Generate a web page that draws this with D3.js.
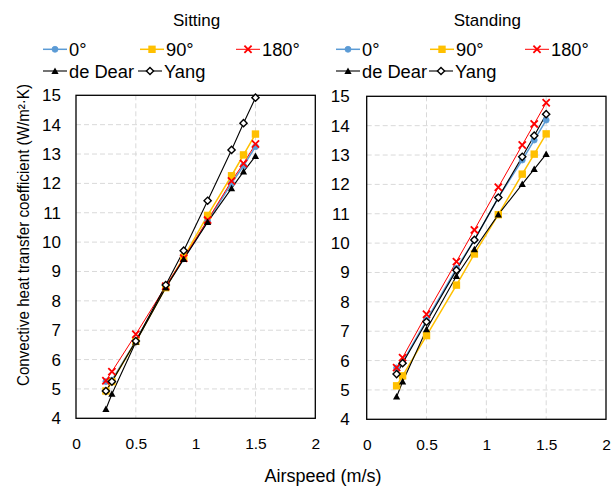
<!DOCTYPE html>
<html>
<head>
<meta charset="utf-8">
<script src="https://cdn.jsdelivr.net/npm/d3@7/dist/d3.min.js"></script>
<style>
  html, body { margin: 0; padding: 0; background: #fff; }
  svg { display: block; font-family: "Liberation Sans", Arial, sans-serif; }
</style>
</head>
<body>
<svg id="chart" width="615" height="486"></svg>
<script>
// Airspeed sample points (m/s)
const airspeed = [0.25, 0.3, 0.5, 0.75, 0.9, 1.1, 1.3, 1.4, 1.5];

// Sitting posture: convective heat transfer coefficient (W/m²·K)
const sit0 = [5.25, 5.30, 6.63, 8.47, 9.43, 10.72, 12.00, 12.60, 13.25];
const sit90 = [4.93, 5.25, 6.62, 8.45, 9.48, 10.91, 12.26, 12.97, 13.68];
const sit180 = [5.28, 5.59, 6.86, 8.50, 9.45, 10.75, 12.08, 12.68, 13.34];
const sitDeDear = [4.31, 4.83, 6.60, 8.45, 9.42, 10.68, 11.83, 12.40, 12.93];
const sitYang = [4.93, 5.25, 6.63, 8.54, 9.71, 11.41, 13.14, 14.05, 14.92];

// Standing posture
const stand0 = [5.75, 5.95, 7.38, 9.14, 10.10, 11.55, 12.83, 13.51, 14.19];
const stand90 = [5.14, 5.48, 6.85, 8.57, 9.63, 10.97, 12.35, 13.03, 13.72];
const stand180 = [5.76, 6.10, 7.58, 9.37, 10.45, 11.90, 13.34, 14.06, 14.78];
const standDeDear = [4.77, 5.28, 7.06, 8.88, 9.79, 10.97, 12.01, 12.52, 13.03];
const standYang = [5.54, 5.91, 7.32, 9.08, 10.11, 11.55, 12.94, 13.66, 14.39];

const seriesNames = ["0°", "90°", "180°", "de Dear", "Yang"];
const xTicks = [0, 0.5, 1, 1.5, 2];
const yTicks = [4, 5, 6, 7, 8, 9, 10, 11, 12, 13, 14, 15];

const styles = {
  "0°":      { color: "#5B9BD5", width: 1.5, marker: "circle" },
  "90°":     { color: "#FFC000", width: 1.5, marker: "square" },
  "180°":    { color: "#FF0000", width: 1.0, marker: "x" },
  "de Dear": { color: "#000000", width: 1.1, marker: "triangle" },
  "Yang":    { color: "#000000", width: 1.1, marker: "diamond" }
};

const panels = [
  { title: "Sitting", left: 76, top: 95.3, right: 315.3, bottom: 418.3, yPad: 15,
    series: [sit0, sit90, sit180, sitDeDear, sitYang],
    legendLines: [[43, 140, 236], [43, 138]] },
  { title: "Standing", left: 366.7, top: 96.3, right: 606, bottom: 419.3, yPad: 17,
    series: [stand0, stand90, stand180, standDeDear, standYang],
    legendLines: [[336, 430, 525], [336, 429]] }
];

const svg = d3.select("#chart");

function drawMarker(g, type, x, y, color) {
  if (type === "circle") {
    g.append("circle").attr("cx", x).attr("cy", y).attr("r", 3)
      .attr("fill", color).attr("stroke", color).attr("stroke-width", 0.8);
  } else if (type === "square") {
    g.append("rect").attr("x", x - 3.7).attr("y", y - 3.7)
      .attr("width", 7.4).attr("height", 7.4).attr("fill", color);
  } else if (type === "x") {
    const s = 3.6;
    g.append("path")
      .attr("d", `M${x - s},${y - s}L${x + s},${y + s}M${x - s},${y + s}L${x + s},${y - s}`)
      .attr("stroke", color).attr("stroke-width", 1.8).attr("fill", "none");
  } else if (type === "triangle") {
    const s = 3.6;
    g.append("path")
      .attr("d", `M${x},${y - s}L${x + s},${y + s * 0.8}L${x - s},${y + s * 0.8}Z`)
      .attr("fill", color);
  } else if (type === "diamond") {
    const s = 3.6;
    g.append("path")
      .attr("d", `M${x},${y - s}L${x + s},${y}L${x},${y + s}L${x - s},${y}Z`)
      .attr("fill", "#fff").attr("stroke", color).attr("stroke-width", 1.4);
  }
}

panels.forEach(p => {
  const x = d3.scaleLinear().domain([0, 2]).range([p.left, p.right]);
  const y = d3.scaleLinear().domain([4, 15]).range([p.bottom, p.top]);
  const g = svg.append("g");

  // Dashed gridlines
  g.append("g").selectAll("line.h").data(yTicks.filter(t => t > 4 && t < 15)).join("line")
    .attr("x1", p.left).attr("x2", p.right)
    .attr("y1", d => y(d)).attr("y2", d => y(d))
    .attr("stroke", "#D9D9D9").attr("stroke-width", 1).attr("stroke-dasharray", "5,3");
  g.append("g").selectAll("line.v").data(xTicks.filter(t => t > 0 && t < 2)).join("line")
    .attr("y1", p.top).attr("y2", p.bottom)
    .attr("x1", d => x(d)).attr("x2", d => x(d))
    .attr("stroke", "#D9D9D9").attr("stroke-width", 1).attr("stroke-dasharray", "5,3");

  // Axes (tick labels only; frame drawn separately)
  const xAxis = g.append("g").attr("transform", `translate(0,${p.bottom})`)
    .call(d3.axisBottom(x).tickValues(xTicks).tickSize(0).tickPadding(20).tickFormat(d3.format("")));
  const yAxis = g.append("g").attr("transform", `translate(${p.left},0)`)
    .call(d3.axisLeft(y).tickValues(yTicks).tickSize(0).tickPadding(p.yPad).tickFormat(d3.format("d")));
  [xAxis, yAxis].forEach(a => {
    a.select(".domain").remove();
    a.selectAll("text").attr("fill", "#000").style("font-family", "'Liberation Sans', Arial, sans-serif");
  });
  xAxis.selectAll("text").attr("font-size", 15.5);
  yAxis.selectAll("text").attr("font-size", 17);

  // Frame
  g.append("rect").attr("x", p.left).attr("y", p.top)
    .attr("width", p.right - p.left).attr("height", p.bottom - p.top)
    .attr("fill", "none").attr("stroke", "#000").attr("stroke-width", 1.3);

  // Series lines and markers
  const line = d3.line().x((d, i) => x(airspeed[i])).y(d => y(d));
  p.series.forEach((vals, si) => {
    const st = styles[seriesNames[si]];
    g.append("path").datum(vals).attr("d", line)
      .attr("fill", "none").attr("stroke", st.color).attr("stroke-width", st.width);
  });
  p.series.forEach((vals, si) => {
    const st = styles[seriesNames[si]];
    const mg = g.append("g");
    vals.forEach((v, i) => drawMarker(mg, st.marker, x(airspeed[i]), y(v), st.color));
  });

  // Panel title
  g.append("text").attr("x", (p.left + p.right) / 2 + 1).attr("y", 25.5)
    .attr("text-anchor", "middle").attr("font-size", 17).text(p.title);

  // Legend
  const rows = [[0, 1, 2], [3, 4]];
  const rowY = [49.3, 71];
  rows.forEach((row, ri) => {
    row.forEach((si, k) => {
      const name = seriesNames[si];
      const st = styles[name];
      const x0 = p.legendLines[ri][k];
      const lg = g.append("g");
      lg.append("line").attr("x1", x0).attr("x2", x0 + 24)
        .attr("y1", rowY[ri]).attr("y2", rowY[ri])
        .attr("stroke", st.color).attr("stroke-width", st.width);
      drawMarker(lg, st.marker, x0 + 12, rowY[ri], st.color);
      lg.append("text").attr("x", x0 + 26).attr("y", rowY[ri] + 7)
        .attr("font-size", 18.3).text(name);
    });
  });
});

// Shared axis titles
svg.append("text").attr("x", 323).attr("y", 481.5)
  .attr("text-anchor", "middle").attr("font-size", 18).text("Airspeed (m/s)");
svg.append("text")
  .attr("transform", "translate(29,235) rotate(-90)")
  .attr("text-anchor", "middle").attr("font-size", 16.5)
  .attr("textLength", 302).attr("lengthAdjust", "spacingAndGlyphs")
  .text("Convective heat transfer coefficient (W/m²·K)");
</script>
</body>
</html>
